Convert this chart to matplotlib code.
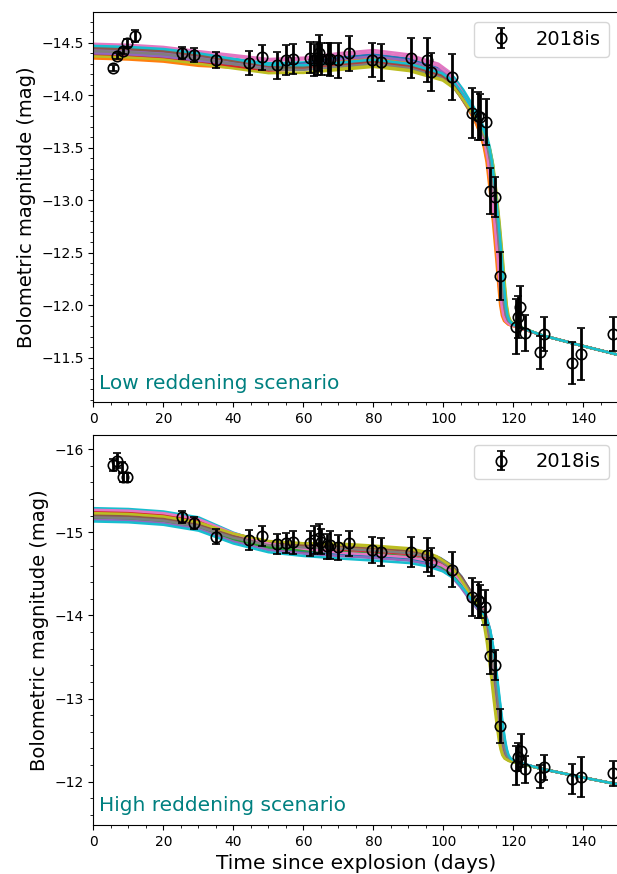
import numpy as np
import matplotlib
matplotlib.use("Agg")
import matplotlib.pyplot as plt
from matplotlib.ticker import AutoMinorLocator

## OBSERVED BOLOMETRIC LIGHT CURVE (2018is)

lowT = [5.66, 6.8, 8.34, 9.49, 11.86, 25.37, 28.71, 35.0, 44.5, 48.2, 52.3, 55.0, 57.1,
        61.9, 63.0, 63.8, 64.3, 65.0, 66.9, 67.6, 69.9, 73.0, 79.7, 82.1, 90.6, 95.2,
        96.4, 102.3, 108.1, 109.8, 110.4, 112.1, 113.3, 114.7, 116.1, 120.7, 121.2,
        121.9, 123.3, 127.6, 128.8, 136.6, 139.2, 148.5]
lowMag = [-14.256, -14.373, -14.418, -14.50, -14.564, -14.399, -14.383, -14.335, -14.304,
          -14.361, -14.285, -14.335, -14.345, -14.359, -14.335, -14.351, -14.399, -14.345,
          -14.345, -14.342, -14.332, -14.399, -14.335, -14.313, -14.351, -14.335, -14.224,
          -14.17, -13.833, -13.802, -13.795, -13.742, -13.09, -13.028, -12.278, -11.795,
          -11.89, -11.986, -11.732, -11.551, -11.726, -11.452, -11.535, -11.723]
lowErr = [0.03, 0.03, 0.03, 0.04, 0.06, 0.057, 0.063, 0.08, 0.116, 0.118, 0.13, 0.14, 0.145,
          0.15, 0.15, 0.16, 0.17, 0.15, 0.155, 0.16, 0.165, 0.165, 0.165, 0.175, 0.19, 0.21,
          0.18, 0.22, 0.24, 0.23, 0.22, 0.22, 0.22, 0.19, 0.23, 0.26, 0.2, 0.2, 0.17, 0.16,
          0.16, 0.2, 0.25, 0.16]

highT = [5.66, 6.6, 8.06, 8.5, 9.66, 25.37, 28.7, 35.0, 44.5, 48.2, 52.3, 54.9, 57.1, 61.9,
         63.0, 64.3, 65.0, 66.8, 67.6, 69.8, 72.9, 79.7, 82.1, 90.6, 95.2, 96.4, 102.3,
         108.1, 109.8, 110.4, 111.9, 113.3, 114.7, 116.1, 120.7, 121.4, 122.1, 123.3,
         127.6, 128.8, 136.6, 139.2, 148.5]
highMag = [-15.81, -15.86, -15.78, -15.66, -15.66, -15.187, -15.114, -14.946, -14.906,
           -14.954, -14.858, -14.866, -14.878, -14.866, -14.906, -14.926, -14.886, -14.834,
           -14.846, -14.818, -14.866, -14.786, -14.766, -14.758, -14.726, -14.646, -14.55,
           -14.218, -14.185, -14.165, -14.097, -13.51, -13.40, -12.67, -12.195, -12.295,
           -12.374, -12.15, -12.062, -12.175, -12.03, -12.062, -12.102]
highErr = [0.07, 0.09, 0.07, 0.05, 0.05, 0.07, 0.07, 0.09, 0.12, 0.12, 0.125, 0.12, 0.14,
           0.15, 0.17, 0.17, 0.15, 0.15, 0.17, 0.155, 0.15, 0.16, 0.166, 0.18, 0.2, 0.17,
           0.21, 0.23, 0.22, 0.2, 0.21, 0.21, 0.18, 0.21, 0.24, 0.17, 0.2, 0.16, 0.14, 0.15,
           0.18, 0.24, 0.15]

## MODEL LIGHT CURVES

# central curve of the model bundle, read at these epochs
knotT = [0, 10, 20, 30, 40, 50, 60, 70, 80, 90, 95, 99, 102.3, 105, 108, 110, 111.5, 112.5,
         113.3, 114.2, 115.2, 116.1, 116.7, 117.2, 117.7, 118.3, 119.5, 122, 128, 140, 152]
lowModel = [-14.42, -14.41, -14.39, -14.35, -14.31, -14.27, -14.28, -14.32, -14.35, -14.31,
            -14.26, -14.22, -14.14, -14.02, -13.86, -13.74, -13.62, -13.50, -13.36, -13.10,
            -12.77, -12.43, -12.18, -12.00, -11.90, -11.85, -11.815, -11.785, -11.715,
            -11.61, -11.51]
highModel = [-15.21, -15.20, -15.17, -15.10, -14.95, -14.85, -14.81, -14.785, -14.76, -14.73,
             -14.69, -14.63, -14.54, -14.41, -14.22, -14.11, -14.00, -13.85, -13.65, -13.36,
             -12.99, -12.68, -12.50, -12.39, -12.32, -12.28, -12.25, -12.22, -12.155,
             -12.05, -11.95]

# where along the curve each kind of model-to-model spread shows up
earlyWeight = [1, 1, 1, 1, 0.75, 0.5, 0.25, 0, 0, 0, 0, 0, 0, 0, 0, 0, 0, 0, 0, 0, 0, 0,
               0, 0, 0, 0, 0, 0, 0, 0, 0]
lateWeight = [0, 0, 0, 0, 0.25, 0.5, 0.75, 1, 1, 1, 1, 1, 1, 1, 0.8, 0.6, 0.45, 0.35, 0.25,
              0.15, 0.1, 0.05, 0, 0, 0, 0, 0, 0, 0, 0, 0]
dropWeight = [0, 0, 0, 0, 0, 0, 0, 0, 0, 0.3, 0.6, 0.9, 1, 1, 1, 1, 1, 1, 1, 1, 1, 1, 1, 1,
              1, 1, 1, 0.6, 0, 0, 0]

# per-model offsets (mag) and shift of the drop (days)
lowEarly = [0.00, 0.07, -0.02, 0.05, -0.01, 0.02, -0.07, 0.01, 0.03, -0.04,
            0.03, 0.06, -0.04, 0.04, 0.02, -0.03, -0.06, 0.00, 0.05, -0.05]
lowLate = [0.01, -0.02, 0.02, 0.00, 0.03, -0.01, -0.08, 0.04, 0.08, -0.03,
           -0.04, 0.00, 0.05, 0.03, -0.02, 0.02, -0.06, 0.05, 0.07, 0.01]
lowShift = [0.2, -1.0, 0.3, -0.4, 0.0, -0.2, -0.5, 0.4, 0.9, 0.7,
            -0.3, -0.8, 0.5, -0.1, 0.1, 0.3, -0.6, 0.2, 0.8, 0.6]

highEarly = [-0.02, 0.03, 0.00, 0.04, 0.02, -0.01, -0.05, 0.05, 0.01, -0.08,
             0.02, -0.03, 0.04, -0.04, 0.06, 0.01, -0.06, 0.03, -0.02, 0.08]
highLate = [-0.06, 0.02, -0.03, 0.05, 0.01, -0.02, 0.00, 0.03, -0.08, 0.06,
            0.04, -0.04, 0.02, -0.01, 0.07, -0.05, 0.03, -0.02, -0.07, 0.10]
highShift = [0.1, 0.3, -0.4, 0.2, 0.0, 0.4, 0.7, -0.2, -0.9, 0.8,
             -0.3, 0.1, -0.5, 0.5, -0.1, 0.2, 0.6, 0.3, -0.7, 0.9]

## PLOT

fig = plt.figure(figsize=(6.17, 8.74), dpi=100)
axLow = fig.add_axes([0.1515, 0.5397, 0.8509, 0.4460])
axHigh = fig.add_axes([0.1515, 0.0561, 0.8509, 0.4462])

panels = [
    (axLow, lowT, lowMag, lowErr, lowModel, lowEarly, lowLate, lowShift,
     "Low reddening scenario", (-11.075, -14.788)),
    (axHigh, highT, highMag, highErr, highModel, highEarly, highLate, highShift,
     "High reddening scenario", (-11.48, -16.17)),
]

for ax, t, mag, err, model, early, late, shift, note, ylim in panels:
    for i in range(len(early)):
        mt = np.array(knotT) + shift[i] * np.array(dropWeight)
        mm = (np.array(model) + early[i] * np.array(earlyWeight)
              + late[i] * np.array(lateWeight))
        ax.plot(mt, mm, color=f"C{i % 10}", lw=1.8, zorder=1)

    ax.errorbar(t, mag, yerr=err, fmt="o", color="k", mfc="none", mec="k", ms=7.5,
                mew=1.2, elinewidth=2, capsize=3, capthick=2, label="2018is", zorder=3)

    ax.set_xlim(0, 150)
    ax.set_ylim(*ylim)
    ax.xaxis.set_minor_locator(AutoMinorLocator())
    ax.yaxis.set_minor_locator(AutoMinorLocator())
    ax.set_ylabel("Bolometric magnitude (mag)", fontsize=14)
    ax.text(0.01, 0.025, note, transform=ax.transAxes, color="teal", fontsize=14.5,
            va="bottom", ha="left")
    ax.legend(loc="upper right", fontsize=14)

axHigh.set_xlabel("Time since explosion (days)", fontsize=14.5)

fig.savefig("out.png", dpi=100)
